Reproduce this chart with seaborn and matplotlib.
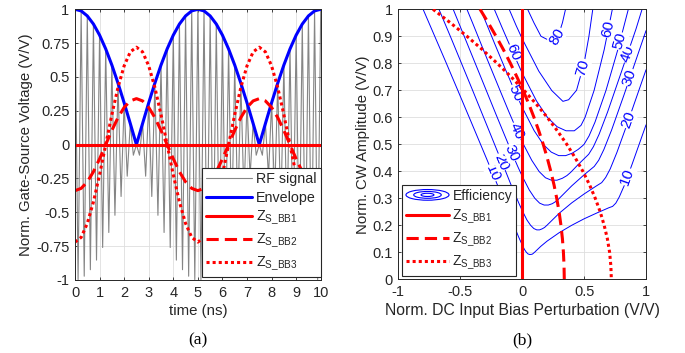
import matplotlib
matplotlib.use('Agg')
import matplotlib.pyplot as plt
from matplotlib.lines import Line2D
from matplotlib.patches import Ellipse
from matplotlib.legend_handler import HandlerBase
import seaborn as sns

# ---------------- (a) time domain ----------------
time_ns = [0, 0.25, 0.5, 0.75, 1, 1.25, 1.5, 1.75, 2, 2.25, 2.5, 2.75, 3, 3.25, 3.5, 3.75, 4, 4.25,
           4.5, 4.75, 5, 5.25, 5.5, 5.75, 6, 6.25, 6.5, 6.75, 7, 7.25, 7.5, 7.75, 8, 8.25, 8.5, 8.75,
           9, 9.25, 9.5, 9.75, 10]
envelope = [1.000, 0.988, 0.951, 0.891, 0.809, 0.707, 0.588, 0.454, 0.309, 0.156, 0.000,
            0.156, 0.309, 0.454, 0.588, 0.707, 0.809, 0.891, 0.951, 0.988, 1.000,
            0.988, 0.951, 0.891, 0.809, 0.707, 0.588, 0.454, 0.309, 0.156, 0.000,
            0.156, 0.309, 0.454, 0.588, 0.707, 0.809, 0.891, 0.951, 0.988, 1.000]
zs_bb1 = [0.0] * 41
zs_bb2 = [-0.340, -0.323, -0.275, -0.200, -0.105, 0.000, 0.105, 0.200, 0.275, 0.323, 0.340,
          0.323, 0.275, 0.200, 0.105, 0.000, -0.105, -0.200, -0.275, -0.323, -0.340,
          -0.323, -0.275, -0.200, -0.105, 0.000, 0.105, 0.200, 0.275, 0.323, 0.340,
          0.323, 0.275, 0.200, 0.105, 0.000, -0.105, -0.200, -0.275, -0.323, -0.340]
zs_bb3 = [-0.720, -0.685, -0.582, -0.423, -0.222, 0.000, 0.222, 0.423, 0.582, 0.685, 0.720,
          0.685, 0.582, 0.423, 0.222, 0.000, -0.222, -0.423, -0.582, -0.685, -0.720,
          -0.685, -0.582, -0.423, -0.222, 0.000, 0.222, 0.423, 0.582, 0.685, 0.720,
          0.685, 0.582, 0.423, 0.222, 0.000, -0.222, -0.423, -0.582, -0.685, -0.720]

rf_time = [0, 0.125, 0.25, 0.375, 0.5, 0.625, 0.75, 0.875, 1, 1.125, 1.25, 1.375, 1.5, 1.625,
           1.75, 1.875, 2, 2.125, 2.25, 2.375, 2.5, 2.625, 2.75, 2.875, 3, 3.125, 3.25, 3.375,
           3.5, 3.625, 3.75, 3.875, 4, 4.125, 4.25, 4.375, 4.5, 4.625, 4.75, 4.875, 5, 5.125,
           5.25, 5.375, 5.5, 5.625, 5.75, 5.875, 6, 6.125, 6.25, 6.375, 6.5, 6.625, 6.75, 6.875,
           7, 7.125, 7.25, 7.375, 7.5, 7.625, 7.75, 7.875, 8, 8.125, 8.25, 8.375, 8.5, 8.625,
           8.75, 8.875, 9, 9.125, 9.25, 9.375, 9.5, 9.625, 9.75, 9.875, 10]
rf_signal = [1.000, -0.997, 0.988, -0.972, 0.951, -0.924, 0.891, -0.853, 0.809, -0.760,
             0.707, -0.649, 0.588, -0.522, 0.454, -0.383, 0.309, -0.233, 0.156, -0.078, 0.000,
             -0.078, 0.156, -0.233, 0.309, -0.383, 0.454, -0.522, 0.588, -0.649, 0.707,
             -0.760, 0.809, -0.853, 0.891, -0.924, 0.951, -0.972, 0.988, -0.997, 1.000,
             -0.997, 0.988, -0.972, 0.951, -0.924, 0.891, -0.853, 0.809, -0.760,
             0.707, -0.649, 0.588, -0.522, 0.454, -0.383, 0.309, -0.233, 0.156, -0.078, 0.000,
             -0.078, 0.156, -0.233, 0.309, -0.383, 0.454, -0.522, 0.588, -0.649, 0.707,
             -0.760, 0.809, -0.853, 0.891, -0.924, 0.951, -0.972, 0.988, -0.997, 1.000]

# ---------------- (b) efficiency contours ----------------
eff10_bias = [-0.800, -0.614, -0.414, -0.286, -0.202, -0.143, -0.100, -0.069, -0.046, -0.027, -0.012,
              0.000, 0.019, 0.034, 0.047, 0.059, 0.070, 0.081, 0.090, 0.097, 0.100, 0.150, 0.200,
              0.300, 0.400, 0.500, 0.600, 0.700, 0.730, 0.756, 0.784, 0.826, 0.889, 1.000]
eff10_amp = [1.000, 0.802, 0.585, 0.445, 0.352, 0.285, 0.238, 0.202, 0.176, 0.155, 0.140,
             0.127, 0.110, 0.100, 0.094, 0.092, 0.092, 0.093, 0.096, 0.099, 0.100, 0.122, 0.141,
             0.173, 0.200, 0.224, 0.245, 0.265, 0.270, 0.282, 0.305, 0.349, 0.428, 0.572]
eff20_bias = [-0.672, -0.572, -0.403, -0.285, -0.201, -0.138, -0.091, -0.054, -0.024, 0.000, 0.038,
              0.068, 0.094, 0.118, 0.140, 0.162, 0.181, 0.195, 0.200, 0.300, 0.400, 0.500, 0.600,
              0.642, 0.674, 0.711, 0.765, 0.850, 1.000]
eff20_amp = [1.000, 0.891, 0.703, 0.570, 0.475, 0.405, 0.351, 0.311, 0.279, 0.255, 0.220,
             0.200, 0.188, 0.183, 0.183, 0.187, 0.192, 0.198, 0.200, 0.245, 0.283, 0.316, 0.346,
             0.358, 0.377, 0.409, 0.470, 0.578, 0.776]
eff30_bias = [-0.557, -0.428, -0.301, -0.208, -0.136, -0.081, -0.037, 0.000, 0.057, 0.102, 0.141,
              0.177, 0.211, 0.243, 0.271, 0.292, 0.300, 0.400, 0.500, 0.582, 0.618, 0.660, 0.723,
              0.823, 1.000]
eff30_amp = [1.000, 0.855, 0.712, 0.607, 0.527, 0.466, 0.419, 0.382, 0.331, 0.300, 0.282,
             0.275, 0.275, 0.280, 0.288, 0.296, 0.300, 0.346, 0.387, 0.418, 0.441, 0.481, 0.554,
             0.684, 0.921]
eff40_bias = [-0.446, -0.401, -0.277, -0.182, -0.108, -0.049, 0.000, 0.077, 0.137, 0.188, 0.236,
              0.281, 0.324, 0.361, 0.389, 0.400, 0.450, 0.537, 0.575, 0.621, 0.690, 0.801, 0.919,
              0.968]
eff40_amp = [1.000, 0.950, 0.809, 0.703, 0.621, 0.558, 0.509, 0.441, 0.399, 0.376, 0.367,
             0.367, 0.374, 0.384, 0.395, 0.400, 0.424, 0.463, 0.491, 0.537, 0.620, 0.768, 0.927,
             1.000]
eff50_bias = [-0.336, -0.227, -0.135, -0.061, 0.000, 0.096, 0.171, 0.235, 0.295, 0.351, 0.404,
              0.452, 0.486, 0.500, 0.540, 0.588, 0.677, 0.772, 0.857]
eff50_amp = [1.000, 0.878, 0.777, 0.698, 0.637, 0.551, 0.499, 0.471, 0.458, 0.458, 0.467,
             0.481, 0.494, 0.500, 0.531, 0.582, 0.700, 0.850, 1.000]
eff60_bias = [-0.225, -0.162, -0.073, 0.000, 0.115, 0.205, 0.282, 0.354, 0.421, 0.475, 0.508,
              0.581, 0.662, 0.728]
eff60_amp = [1.000, 0.932, 0.838, 0.764, 0.661, 0.599, 0.565, 0.550, 0.550, 0.570, 0.600,
             0.700, 0.850, 1.000]
eff70_bias = [-0.105, -0.049, 0.000, 0.134, 0.239, 0.329, 0.375, 0.439, 0.500, 0.539, 0.570]
eff70_amp = [1.000, 0.940, 0.891, 0.771, 0.699, 0.659, 0.665, 0.700, 0.800, 0.900, 1.000]
eff80_bias = [0.044, 0.095, 0.152, 0.220, 0.290, 0.325, 0.350]
eff80_amp = [1.000, 0.950, 0.900, 0.884, 0.900, 0.950, 1.000]

# baseband impedance trajectories (bias vs. envelope amplitude)
traj_amp = [1.0, 0.95, 0.9, 0.85, 0.8, 0.75, 0.7, 0.65, 0.6, 0.55, 0.5, 0.45, 0.4, 0.35, 0.3,
            0.25, 0.2, 0.15, 0.1, 0.05, 0.0]
bb1_bias = [0.0] * 21
bb2_bias = [-0.340, -0.274, -0.211, -0.151, -0.095, -0.043, 0.007, 0.053, 0.095, 0.134, 0.170,
            0.202, 0.231, 0.257, 0.279, 0.298, 0.313, 0.325, 0.333, 0.338, 0.340]
bb3_bias = [-0.720, -0.580, -0.446, -0.320, -0.202, -0.090, 0.014, 0.112, 0.202, 0.284, 0.360,
            0.428, 0.490, 0.544, 0.590, 0.630, 0.662, 0.688, 0.706, 0.716, 0.720]

contours = [(eff10_bias, eff10_amp), (eff20_bias, eff20_amp), (eff30_bias, eff30_amp),
            (eff40_bias, eff40_amp), (eff50_bias, eff50_amp), (eff60_bias, eff60_amp),
            (eff70_bias, eff70_amp), (eff80_bias, eff80_amp)]

# inline contour labels: text, x, y, angle
clabels = [('10', -0.24, 0.394, -67), ('20', -0.165, 0.435, -67), ('30', -0.084, 0.469, -66),
           ('40', -0.04, 0.55, -66), ('50', -0.052, 0.69, -66), ('60', -0.07, 0.84, -67),
           ('10', 0.85, 0.379, 70), ('20', 0.86, 0.591, 70), ('30', 0.87, 0.747, 71),
           ('40', 0.85, 0.834, 71), ('50', 0.79, 0.882, 75), ('60', 0.696, 0.927, 78),
           ('70', 0.49, 0.784, 74), ('80', 0.285, 0.9, 60)]

TXT = '#262626'
sns.set_style('ticks')
plt.rcParams['font.family'] = ['Liberation Sans', 'DejaVu Sans']
plt.rcParams['axes.unicode_minus'] = False
plt.rcParams['text.color'] = TXT


class EllipseHandler(HandlerBase):
    def create_artists(self, legend, orig_handle, xdescent, ydescent, width, height, fontsize, trans):
        cx = 0.5 * width - xdescent
        cy = 0.5 * height - ydescent
        out = []
        for s in (1.0, 0.64, 0.3):
            e = Ellipse((cx, cy), width * s, height * 1.1 * s, fill=False,
                        edgecolor='blue', linewidth=0.8)
            e.set_transform(trans)
            out.append(e)
        return out


def style_axes(ax):
    ax.grid(True, color='#dedede', linewidth=0.6)
    ax.set_axisbelow(True)
    ax.tick_params(direction='in', top=True, right=True, length=2.5, width=0.6,
                   labelsize=10.5, colors=TXT, pad=4)
    for sp in ax.spines.values():
        sp.set_linewidth(0.7)
        sp.set_color(TXT)


fig = plt.figure(figsize=(6.85, 3.53), dpi=100)
ax1 = fig.add_axes([0.1095, 0.2068, 0.3587, 0.7669])
ax2 = fig.add_axes([0.5815, 0.2088, 0.3616, 0.7649])

# ---- (a)
sns.lineplot(x=rf_time, y=rf_signal, ax=ax1, color='#858585', linewidth=0.8, sort=False, estimator=None)
sns.lineplot(x=time_ns, y=envelope, ax=ax1, color='blue', linewidth=2.2, sort=False, estimator=None)
sns.lineplot(x=time_ns, y=zs_bb1, ax=ax1, color='red', linewidth=2.2, sort=False, estimator=None)
sns.lineplot(x=time_ns, y=zs_bb2, ax=ax1, color='red', linewidth=2.2, linestyle=(0, (4, 2)),
             sort=False, estimator=None)
sns.lineplot(x=time_ns, y=zs_bb3, ax=ax1, color='red', linewidth=2.2, linestyle=(0, (1, 1)),
             sort=False, estimator=None)
ax1.set_xlim(0, 10)
ax1.set_ylim(-1, 1)
ax1.set_xticks(range(0, 11))
ax1.set_xticklabels([str(v) for v in range(0, 11)])
yt = [-1, -0.75, -0.5, -0.25, 0, 0.25, 0.5, 0.75, 1]
ax1.set_yticks(yt)
ax1.set_yticklabels(['-1', '-0.75', '-0.5', '-0.25', '0', '0.25', '0.5', '0.75', '1'])
ax1.set_xlabel('time (ns)', fontsize=10.8, color=TXT, labelpad=3)
ax1.set_ylabel('Norm. Gate-Source Voltage (V/V)', fontsize=10.8, color=TXT, labelpad=2)
style_axes(ax1)

lab_bb = [r'$\mathregular{Z_{S\_BB1}}$', r'$\mathregular{Z_{S\_BB2}}$', r'$\mathregular{Z_{S\_BB3}}$']
h1 = ax1.get_lines()
leg1 = ax1.legend(h1, ['RF signal', 'Envelope'] + lab_bb, loc='lower right',
                  bbox_to_anchor=(1.0, 0.01), borderaxespad=0, fancybox=False, framealpha=1,
                  edgecolor=TXT, fontsize=10.3, handlelength=3.2, handletextpad=0.3,
                  labelspacing=0.33, borderpad=0.3)
leg1.get_frame().set_linewidth(0.8)

# ---- (b)
for b, a in contours:
    sns.lineplot(x=b, y=a, ax=ax2, color='blue', linewidth=0.7, sort=False, estimator=None, zorder=2)
for txt, x, y, r in clabels:
    ax2.text(x, y, txt, color='blue', fontsize=11, rotation=r, rotation_mode='anchor',
             ha='center', va='center', zorder=3,
             bbox=dict(facecolor='white', edgecolor='none', pad=0.3))
n0 = len(ax2.get_lines())
sns.lineplot(x=bb1_bias, y=traj_amp, ax=ax2, color='red', linewidth=2.2, sort=False, estimator=None, zorder=4)
sns.lineplot(x=bb2_bias, y=traj_amp, ax=ax2, color='red', linewidth=2.2, linestyle=(0, (4, 2)),
             sort=False, estimator=None, zorder=4)
sns.lineplot(x=bb3_bias, y=traj_amp, ax=ax2, color='red', linewidth=2.2, linestyle=(0, (1, 1)),
             sort=False, estimator=None, zorder=4)
ax2.set_xlim(-1, 1)
ax2.set_ylim(0, 1)
ax2.set_xticks([-1, -0.5, 0, 0.5, 1])
ax2.set_xticklabels(['-1', '-0.5', '0', '0.5', '1'])
ax2.set_yticks([0, 0.1, 0.2, 0.3, 0.4, 0.5, 0.6, 0.7, 0.8, 0.9, 1])
ax2.set_yticklabels(['0', '0.1', '0.2', '0.3', '0.4', '0.5', '0.6', '0.7', '0.8', '0.9', '1'])
ax2.set_xlabel('Norm. DC Input Bias Perturbation (V/V)', fontsize=11.3, color=TXT, labelpad=3)
ax2.set_ylabel('Norm. CW Amplitude (V/V)', fontsize=10.8, color=TXT, labelpad=2)
style_axes(ax2)

eff_handle = Line2D([], [], color='blue')
h2 = [eff_handle] + ax2.get_lines()[n0:]
leg2 = ax2.legend(h2, ['Efficiency'] + lab_bb, loc='lower left', bbox_to_anchor=(0.014, 0.012),
                  borderaxespad=0, fancybox=False, framealpha=1, edgecolor=TXT, fontsize=10,
                  handlelength=3.1, handletextpad=0.25, labelspacing=0.36, borderpad=0.3,
                  handler_map={eff_handle: EllipseHandler()})
leg2.get_frame().set_linewidth(0.8)
leg2.set_zorder(10)

fig.text(0.289, 0.037, '(a)', family='Liberation Serif', fontsize=12.5, ha='center', va='center', color='black')
fig.text(0.763, 0.037, '(b)', family='Liberation Serif', fontsize=12.5, ha='center', va='center', color='black')

fig.savefig('out.png', dpi=100)
